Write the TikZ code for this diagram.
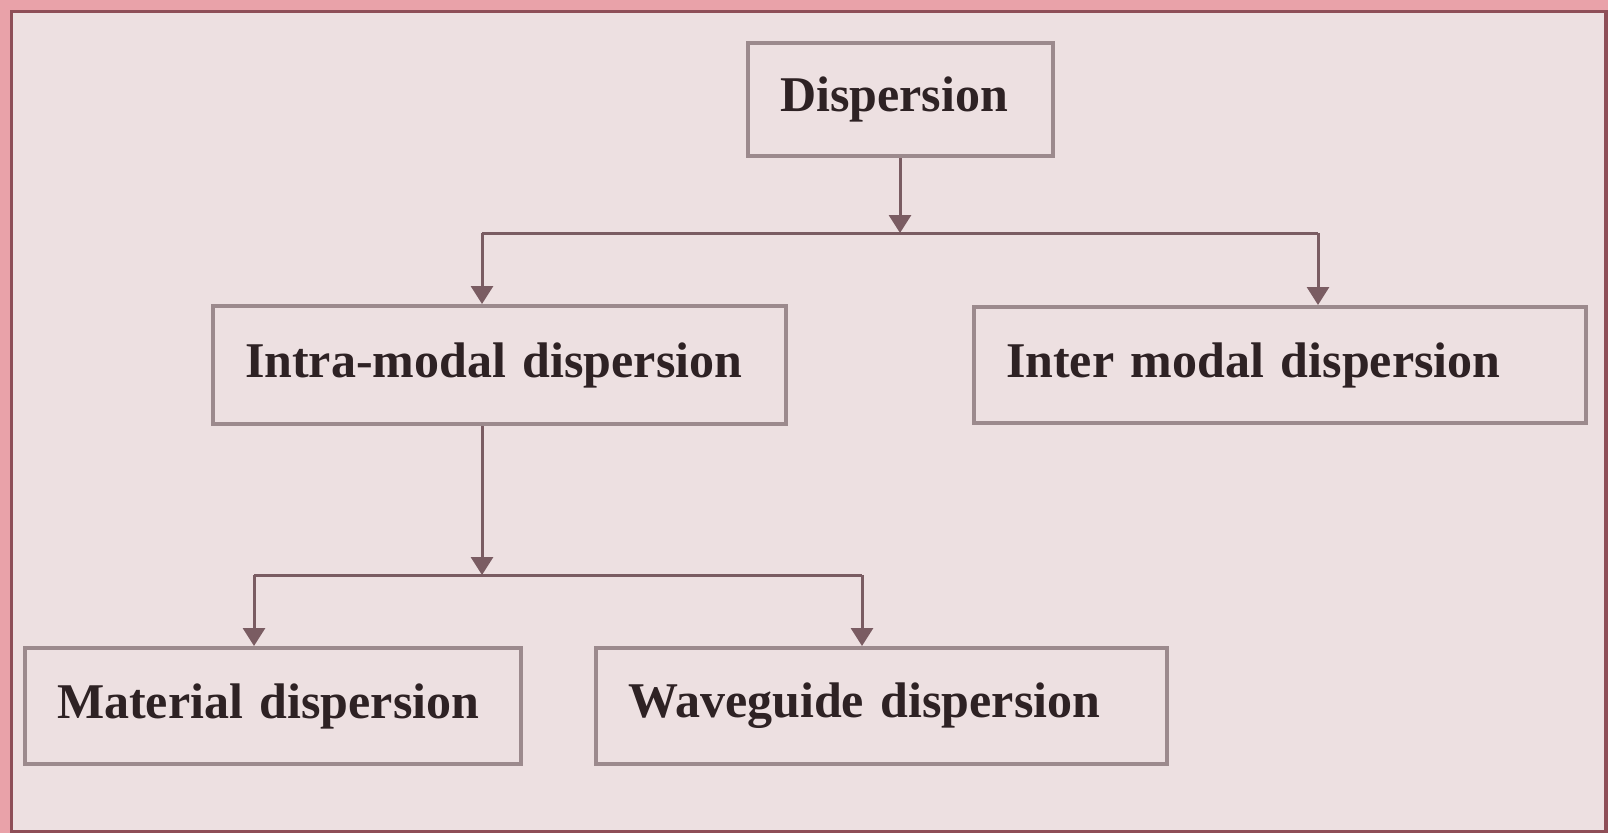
\documentclass[tikz,border=0pt]{standalone}
\usepackage{fontspec}
\setmainfont{Liberation Serif}
\usetikzlibrary{arrows.meta}
\definecolor{bgc}{HTML}{EDE0E1}
\definecolor{outerc}{HTML}{E9A2A9}
\definecolor{framec}{HTML}{8E4E57}
\definecolor{boxc}{HTML}{9C8A8D}
\definecolor{connc}{HTML}{7A5C62}
\definecolor{textc}{HTML}{2E2224}
\tikzset{
  box/.style={draw=boxc, line width=4pt, fill=bgc, inner xsep=32pt, inner ysep=0pt,
    align=left, text=textc, font=\fontsize{50}{60}\selectfont\bfseries},
  conn/.style={draw=connc, line width=3pt},
  arr/.style={conn, -{Triangle[width=22pt,length=18pt]}},
}
\begin{document}
\begin{tikzpicture}[x=1pt,y=-1pt]
\useasboundingbox (0,0) rectangle (1608,833);
\fill[outerc] (0,0) rectangle (1608,833);
\fill[bgc] (12,12) rectangle (1605,830);
\draw[framec, line width=3.5pt] (11.5,11.5) rectangle (1606,831.5);

\node[box, minimum width=305pt, minimum height=113pt, text width=241pt] (disp) at (900.5,99.5) {Dispersion};
\node[box, minimum width=573pt, minimum height=118pt, text width=509pt] (intra) at (499.5,365) {Intra-modal dispersion};
\node[box, minimum width=612pt, minimum height=116pt, text width=548pt] (inter) at (1280,365) {Inter modal dispersion};
\node[box, minimum width=496pt, minimum height=116pt, text width=432pt] (mat) at (273,706) {Material dispersion};
\node[box, minimum width=571pt, minimum height=116pt, text width=507pt] (wave) at (881.5,706) {Waveguide dispersion};

\coordinate (j1) at (900,233);
\coordinate (j1a) at (482,233);
\coordinate (j1b) at (1318,233);
\coordinate (j2) at (482,575);
\coordinate (j2a) at (254,575);
\coordinate (j2b) at (862,575);

\draw[arr] (disp.south -| j1) -- (j1);
\draw[conn] (j1a) -- (j1b);
\draw[arr] (j1a) -- (j1a |- intra.north);
\draw[arr] (j1b) -- (j1b |- inter.north);
\draw[arr] (j2 |- intra.south) -- (j2);
\draw[conn] (j2a) -- (j2b);
\draw[arr] (j2a) -- (j2a |- mat.north);
\draw[arr] (j2b) -- (j2b |- wave.north);
\end{tikzpicture}
\end{document}
